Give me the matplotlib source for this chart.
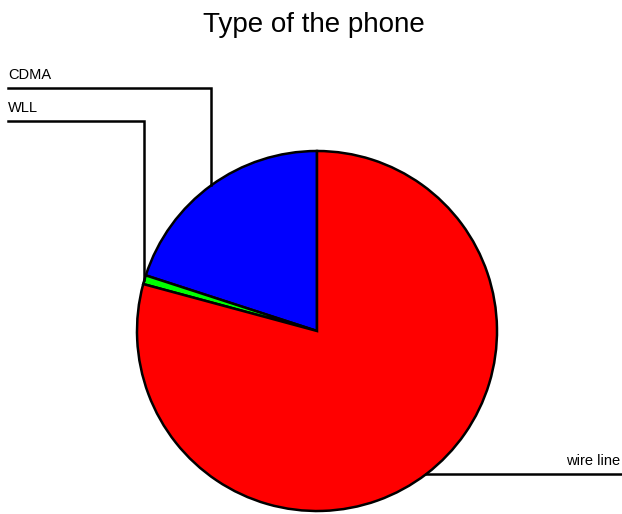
import numpy as np
import matplotlib.pyplot as plt

plt.rcParams['font.family'] = ['Liberation Sans', 'DejaVu Sans']

# Phone type shares (percent)
labels = ['CDMA', 'WLL', 'wire line']
shares = [20.0, 0.8, 79.2]
colors = ['#0000ff', '#00ff00', '#ff0000']

W, H = 622, 514
fig = plt.figure(figsize=(W / 100, H / 100), dpi=100)
ax = fig.add_axes([0, 0, 1, 1])

cx, cy, r = 317, H - 331, 180
wedges, _ = ax.pie(shares, colors=colors, startangle=90, counterclock=True,
                   center=(cx, cy), radius=r, frame=True,
                   wedgeprops=dict(edgecolor='black', linewidth=1.8))
ax.set_xlim(0, W)
ax.set_ylim(0, H)
ax.set_aspect('equal')
ax.axis('off')

def anchor(w):
    a = np.deg2rad((w.theta1 + w.theta2) / 2)
    return cx + r * np.cos(a), cy + r * np.sin(a)

# leader lines: label rows on the left, wire line at the bottom right
left_rows = {'CDMA': H - 88, 'WLL': H - 121}
for w, lab in zip(wedges, labels):
    x0, y0 = anchor(w)
    if lab in left_rows:
        yl = left_rows[lab]
        ax.plot([8, x0, x0], [yl, yl, y0], color='black', lw=1.8,
                solid_joinstyle='miter')
        ax.text(8, yl + 9, lab, fontsize=10.5, ha='left', va='baseline')
    else:
        ax.plot([x0, W], [y0, y0], color='black', lw=1.8)
        ax.text(W - 2, y0 + 9, lab, fontsize=10.5, ha='right', va='baseline')

fig.text(314 / W, 1 - 32 / H, 'Type of the phone', fontsize=20,
         ha='center', va='baseline')

fig.savefig('out.png', dpi=100, facecolor='white')
